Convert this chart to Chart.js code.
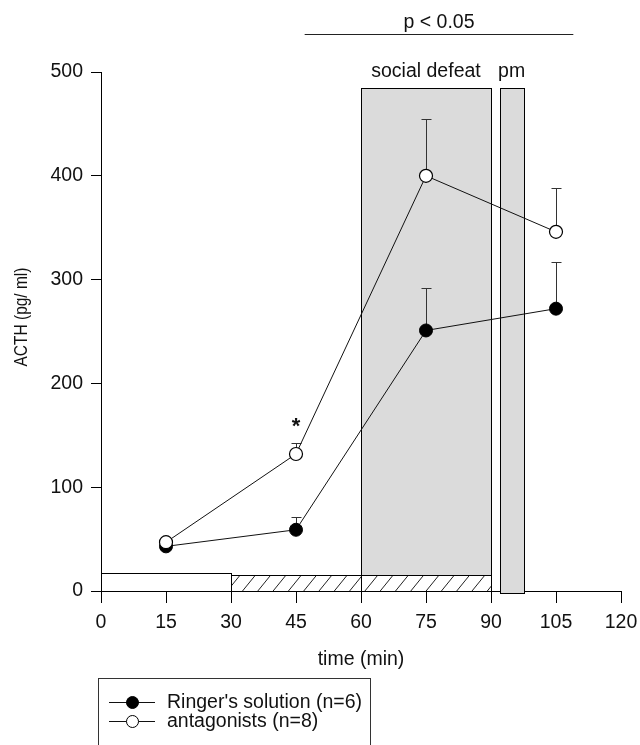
<!DOCTYPE html>
<html><head><meta charset="utf-8">
<script src="https://cdn.jsdelivr.net/npm/chart.js@4.4.0/dist/chart.umd.min.js"></script>
<style>html,body{margin:0;padding:0;background:#fff;}#wrap{width:640px;height:745px;position:relative;}</style>
</head><body><div id="wrap"><canvas id="c" width="640" height="745"></canvas></div>
<script>
// ---- data ----
const timePoints = [15, 45, 75, 105];
const ringerMean = [43, 59, 251, 272];
const ringerSEM = [0, 12, 41, 45];
const antagMean = [47, 132, 400, 346];
const antagSEM = [0, 11, 55, 42];
const seriesLabels = ["Ringer's solution (n=6)", "antagonists (n=8)"];
const xTicks = [0, 15, 30, 45, 60, 75, 90, 105, 120];
const yTicks = [0, 100, 200, 300, 400, 500];
const xTitle = 'time (min)';
const yTitle = 'ACTH (pg/ ml)';
const periodLabels = ['social defeat', 'pm'];
const socialDefeatPeriod = [60, 90];
const pmPeriod = [92, 97.5];
const baselinePeriod = [0, 30];
const infusionPeriod = [30, 90];
const sigLabel = 'p < 0.05';
const sigRange = [47, 109];
const starLabel = '*';
const starTime = 45;

const FONT = '"Liberation Sans", Arial, Helvetica, sans-serif';
const errs = [ringerSEM, antagSEM];

const decor = {
  id: 'decor',
  beforeDatasetsDraw(chart) {
    const {ctx, scales: {x, y}} = chart;
    const px = v => Math.round(x.getPixelForValue(v)) + 0.5;
    const py = v => Math.round(y.getPixelForValue(v)) + 0.5;
    ctx.save();
    ctx.lineWidth = 1;
    ctx.strokeStyle = '#000';
    // social defeat box
    ctx.fillStyle = '#dbdbdb';
    let l = px(socialDefeatPeriod[0]), r = px(socialDefeatPeriod[1]);
    let t = py(485), b = py(0);
    ctx.fillRect(l, t, r - l, b - t);
    ctx.strokeRect(l, t, r - l, b - t);
    // pm box
    l = px(pmPeriod[0]); r = px(pmPeriod[1]);
    ctx.fillRect(l, t, r - l, b - t + 2);
    ctx.strokeRect(l, t, r - l, b - t + 2);
    // baseline box
    l = px(baselinePeriod[0]); r = px(baselinePeriod[1]);
    let t2 = py(17);
    ctx.fillStyle = '#fff';
    ctx.fillRect(l, t2, r - l, b - t2);
    ctx.strokeRect(l, t2, r - l, b - t2);
    // hatched infusion box
    l = px(infusionPeriod[0]); r = px(infusionPeriod[1]);
    let t3 = py(15);
    ctx.fillStyle = '#fff';
    ctx.fillRect(l, t3, r - l, b - t3);
    ctx.save();
    ctx.beginPath(); ctx.rect(l, t3, r - l, b - t3); ctx.clip();
    ctx.beginPath();
    for (let xx = l - 20; xx < r + 20; xx += 15.3) {
      ctx.moveTo(xx, b); ctx.lineTo(xx + 13, t3);
    }
    ctx.strokeStyle = '#222';
    ctx.stroke();
    ctx.restore();
    ctx.strokeRect(l, t3, r - l, b - t3);
    // social defeat left edge through hatched area
    ctx.beginPath();
    ctx.moveTo(px(socialDefeatPeriod[0]), t3); ctx.lineTo(px(socialDefeatPeriod[0]), b);
    ctx.stroke();
    // error bars (upper only)
    ctx.strokeStyle = '#333';
    chart.data.datasets.forEach((ds, di) => {
      const e = errs[di];
      ds.data.forEach((p, i) => {
        if (!e[i]) return;
        const cx = px(p.x), y0 = y.getPixelForValue(p.y), y1 = py(p.y + e[i]);
        ctx.beginPath();
        ctx.moveTo(cx, y0); ctx.lineTo(cx, y1);
        ctx.moveTo(cx - 5, y1); ctx.lineTo(cx + 5, y1);
        ctx.stroke();
      });
    });
    ctx.restore();
  },
  afterDraw(chart) {
    const {ctx, scales: {x, y}} = chart;
    const px = v => x.getPixelForValue(v);
    const py = v => y.getPixelForValue(v);
    ctx.save();
    ctx.fillStyle = '#111';
    ctx.textAlign = 'center';
    ctx.textBaseline = 'alphabetic';
    ctx.font = '19.5px ' + FONT;
    // significance
    ctx.fillText(sigLabel, (px(sigRange[0]) + px(sigRange[1])) / 2, 28);
    ctx.beginPath();
    ctx.lineWidth = 1;
    ctx.strokeStyle = '#222';
    ctx.moveTo(px(sigRange[0]), 34.5); ctx.lineTo(px(sigRange[1]), 34.5);
    ctx.stroke();
    // period labels
    ctx.fillText(periodLabels[0], 426, 77);
    ctx.fillText(periodLabels[1], (px(pmPeriod[0]) + px(pmPeriod[1])) / 2, 77);
    // star
    ctx.font = 'bold 22px ' + FONT;
    ctx.fillText(starLabel, px(starTime), 433);
    // axis titles
    ctx.font = '19.5px ' + FONT;
    ctx.textBaseline = 'middle';
    ctx.fillText(xTitle, (chart.chartArea.left + chart.chartArea.right) / 2, 660);
    ctx.save();
    ctx.translate(22, 317);
    ctx.rotate(-Math.PI / 2);
    ctx.scale(0.86, 1);
    ctx.font = '18px ' + FONT;
    ctx.fillText(yTitle, 0, 0);
    ctx.restore();
    // legend
    ctx.strokeStyle = '#333';
    ctx.lineWidth = 1;
    ctx.strokeRect(98.5, 678.5, 272, 100);
    const rows = [702.5, 721.5];
    chart.data.datasets.forEach((ds, i) => {
      const yy = rows[i];
      ctx.beginPath();
      ctx.strokeStyle = '#111';
      ctx.moveTo(109, yy); ctx.lineTo(155, yy);
      ctx.stroke();
      ctx.beginPath();
      ctx.arc(132.5, yy, 6, 0, Math.PI * 2);
      ctx.fillStyle = ds.pointBackgroundColor;
      ctx.fill();
      ctx.strokeStyle = '#000';
      ctx.stroke();
      ctx.fillStyle = '#111';
      ctx.textAlign = 'left';
      ctx.textBaseline = 'alphabetic';
      ctx.font = '19.5px ' + FONT;
      ctx.fillText(ds.label, 167, yy + 5);
    });
    ctx.restore();
  }
};

new Chart(document.getElementById('c'), {
  type: 'line',
  data: {
    datasets: [
      {
        label: seriesLabels[0],
        data: timePoints.map((t, i) => ({x: t, y: ringerMean[i]})),
        borderColor: '#111', borderWidth: 1,
        pointRadius: 6.5, pointBackgroundColor: '#000', pointBorderColor: '#000', pointBorderWidth: 1,
        tension: 0, order: 1, fill: false
      },
      {
        label: seriesLabels[1],
        data: timePoints.map((t, i) => ({x: t, y: antagMean[i]})),
        borderColor: '#111', borderWidth: 1,
        pointRadius: 6.5, pointBackgroundColor: '#fff', pointBorderColor: '#000', pointBorderWidth: 1.2,
        tension: 0, order: 0, fill: false
      }
    ]
  },
  options: {
    responsive: false,
    animation: false,
    devicePixelRatio: 1,
    layout: {padding: {left: 0, top: 72, right: 19, bottom: 0}},
    plugins: {legend: {display: false}, tooltip: {enabled: false}},
    scales: {
      x: {
        type: 'linear', min: 0, max: 120,
        afterBuildTicks: s => { s.ticks = xTicks.map(v => ({value: v})); },
        ticks: {color: '#111', font: {family: FONT, size: 19.5}, padding: 8, maxRotation: 0, autoSkip: false},
        grid: {drawOnChartArea: false, drawTicks: true, tickLength: 12, color: '#000', tickColor: '#000'},
        border: {display: true, color: '#000', width: 1},
        afterFit: s => { s.height = 154; s.paddingLeft = 0; s.paddingRight = 0; }
      },
      y: {
        type: 'linear', min: 0, max: 500,
        afterBuildTicks: s => { s.ticks = yTicks.map(v => ({value: v})); },
        ticks: {color: '#111', font: {family: FONT, size: 19.5}, padding: 8},
        grid: {drawOnChartArea: false, drawTicks: true, tickLength: 10, color: '#000', tickColor: '#000'},
        border: {display: true, color: '#000', width: 1},
        afterFit: s => { s.width = 101; s.paddingTop = 0; s.paddingBottom = 0; }
      }
    }
  },
  plugins: [decor]
});
</script>
</body></html>
